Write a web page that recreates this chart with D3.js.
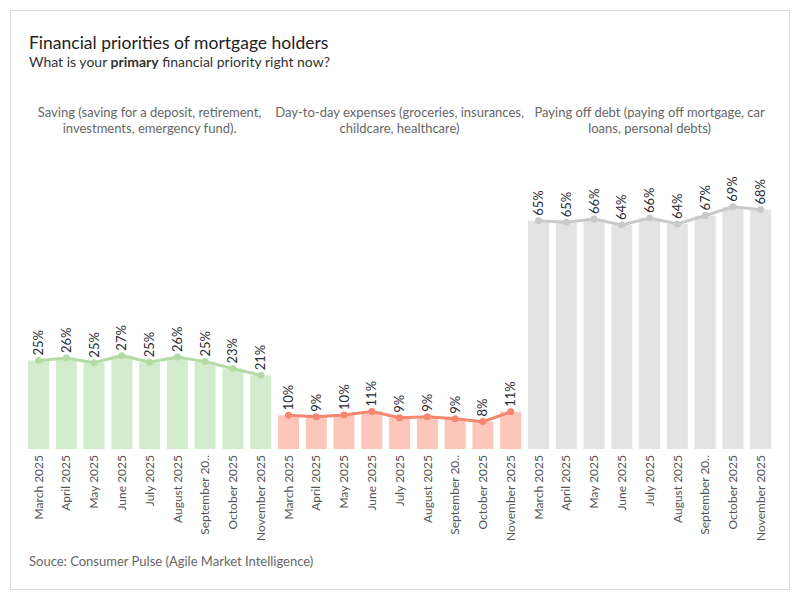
<!DOCTYPE html>
<html>
<head>
<meta charset="utf-8">
<style>
    body { margin: 0; background: #fff; font-family: Lato, 'Open Sans', sans-serif; }
    .title { font-size: 17.5px; fill: #222; }
    .subtitle { font-size: 14px; fill: #333; }
    .header { font-size: 13px; fill: #666; }
    .month { font-size: 12px; fill: #555; }
    .val { font-size: 13px; fill: #2b2b33; }
    .source { font-size: 13px; fill: #666; }
</style>
</head>
<body>
<svg width="800" height="600"></svg>
<script src="https://d3js.org/d3.v7.min.js"></script>
<script>
    // data (share of respondents, %)
    let months = ["March 2025", "April 2025", "May 2025", "June 2025", "July 2025",
        "August 2025", "September 20..", "October 2025", "November 2025"]

    let categories = ["Saving", "Day-to-day", "Debt"]

    let headers = [
        ["Saving (saving for a deposit, retirement,", "investments, emergency fund)."],
        ["Day-to-day expenses (groceries, insurances,", "childcare, healthcare)"],
        ["Paying off debt (paying off mortgage, car", "loans, personal debts)"]
    ]

    let saving = [25.2, 25.9, 24.6, 26.6, 24.7, 26.2, 24.9, 22.9, 21.0]
    let dayToDay = [9.6, 9.2, 9.7, 10.7, 8.9, 9.2, 8.6, 7.8, 10.6]
    let debt = [65.0, 64.6, 65.5, 63.8, 65.8, 64.1, 66.5, 69.0, 68.2]

    let barColors = ["#d4ecce", "#fcc6bb", "#e3e3e3"]
    let lineColors = ["#b2dca3", "#f58670", "#c9c9c9"]

    let series = [saving, dayToDay, debt]

    let svg = d3.select("svg")

    // outer frame
    svg.append("rect")
        .attr("x", 10.5).attr("y", 10.5)
        .attr("width", 779).attr("height", 579)
        .attr("fill", "none")
        .attr("stroke", "#dcdcdc")

    svg.append("text").attr("class", "title")
        .attr("x", 29).attr("y", 49)
        .text("Financial priorities of mortgage holders")

    let sub = svg.append("text").attr("class", "subtitle")
        .attr("x", 29).attr("y", 67)
    sub.append("tspan").text("What is your ")
    sub.append("tspan").attr("font-weight", "bold").text("primary")
    sub.append("tspan").text(" financial priority right now?")

    let panel = d3.scaleBand()
        .domain(categories)
        .range([24.6, 774.6])

    let x = d3.scaleBand()
        .domain(months)
        .range([0, panel.bandwidth()])
        .paddingInner(0.244)
        .paddingOuter(0.122)

    let y = d3.scaleLinear()
        .domain([0, 100])
        .range([449, 98])

    let line = d3.line()
        .x((d, i) => x(months[i]) + x.bandwidth() / 2)
        .y(d => y(d))

    categories.forEach(function (cat, ci) {
        let g = svg.append("g")
            .attr("transform", `translate(${panel(cat)},0)`)

        let h = g.append("text").attr("class", "header")
            .attr("text-anchor", "middle")
            .attr("x", panel.bandwidth() / 2)
        h.selectAll("tspan")
            .data(headers[ci])
            .join("tspan")
            .attr("x", panel.bandwidth() / 2)
            .attr("y", (d, i) => 117 + i * 16)
            .text(d => d)

        let vals = series[ci]

        g.selectAll("rect")
            .data(vals)
            .join("rect")
            .attr("x", (d, i) => x(months[i]))
            .attr("width", x.bandwidth())
            .attr("y", d => y(d))
            .attr("height", d => y(0) - y(d))
            .attr("fill", barColors[ci])

        g.append("path")
            .datum(vals)
            .attr("d", line)
            .attr("fill", "none")
            .attr("stroke", lineColors[ci])
            .attr("stroke-width", 3)

        g.selectAll("circle")
            .data(vals)
            .join("circle")
            .attr("cx", (d, i) => x(months[i]) + x.bandwidth() / 2)
            .attr("cy", d => y(d))
            .attr("r", 3.5)
            .attr("fill", lineColors[ci])

        g.selectAll(".val")
            .data(vals)
            .join("text")
            .attr("class", "val")
            .attr("transform", (d, i) =>
                `translate(${x(months[i]) + x.bandwidth() / 2},${y(d) - 5}) rotate(-90)`)
            .attr("dy", "0.35em")
            .text(d => d3.format(".0f")(d) + "%")

        g.selectAll(".month")
            .data(months)
            .join("text")
            .attr("class", "month")
            .attr("text-anchor", "end")
            .attr("transform", d =>
                `translate(${x(d) + x.bandwidth() / 2},455) rotate(-90)`)
            .attr("dy", "0.35em")
            .text(d => d)
    })

    svg.append("text").attr("class", "source")
        .attr("x", 29).attr("y", 566)
        .text("Souce: Consumer Pulse (Agile Market Intelligence)")
</script>
</body>
</html>
